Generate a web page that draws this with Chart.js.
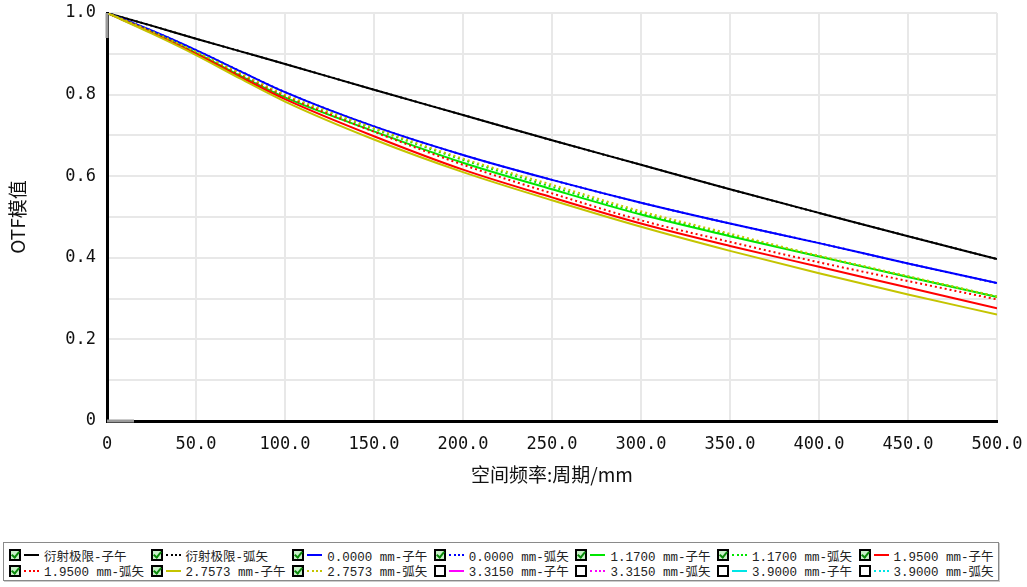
<!DOCTYPE html>
<html lang="zh">
<head>
<meta charset="UTF-8">
<title>OTF模值</title>
<script src="https://cdn.jsdelivr.net/npm/chart.js"></script>
<style>
    body { margin: 0; background: #fff; }
    #wrap { position: relative; width: 1027px; height: 587px; }
    #legend {
        position: absolute; left: 3px; top: 542px; width: 994px; height: 37px;
        border: 1px solid #8a8a8a; box-shadow: 1px 1px 0 #ccc;
        font-family: "Liberation Mono", "Noto Sans CJK SC", monospace; font-size: 12.5px; color: #222;
    }
    .item { position: absolute; height: 14px; display: flex; align-items: center; white-space: nowrap; }
    .box { width: 8px; height: 8px; border: 2px solid #000; margin-right: 3px; position: relative; background: #fff; }
    .box.on { background: #c8f0c8; }
    .box.on::after {
        content: ""; position: absolute; left: 2px; top: -1px; width: 3px; height: 6px;
        border-right: 2px solid #0a8a0a; border-bottom: 2px solid #0a8a0a; transform: rotate(40deg);
    }
    .sample { width: 15px; height: 0; margin-right: 5px; }
</style>
</head>
<body>
<div id="wrap">
    <canvas id="otfChart" width="1027" height="490"></canvas>
    <div id="legend"></div>
</div>
<script>
// 空间频率 (周期/mm)
const freq = [0, 25, 50, 75, 100, 150, 200, 250, 300, 350, 400, 450, 500];

// OTF模值
const diffT  = [1, 0.969, 0.937, 0.906, 0.875, 0.812, 0.750, 0.688, 0.628, 0.568, 0.510, 0.453, 0.397];
const diffS  = [1, 0.969, 0.937, 0.906, 0.875, 0.812, 0.750, 0.688, 0.628, 0.568, 0.510, 0.453, 0.397];
const f0T    = [1, 0.957, 0.909, 0.857, 0.806, 0.722, 0.652, 0.591, 0.535, 0.484, 0.436, 0.386, 0.338];
const f0S    = [1, 0.957, 0.909, 0.857, 0.806, 0.722, 0.652, 0.591, 0.535, 0.484, 0.436, 0.386, 0.338];
const f117T  = [1, 0.953, 0.902, 0.846, 0.793, 0.710, 0.633, 0.568, 0.506, 0.453, 0.403, 0.353, 0.304];
const f117S  = [1, 0.954, 0.904, 0.850, 0.798, 0.716, 0.640, 0.574, 0.510, 0.456, 0.404, 0.354, 0.305];
const f195T  = [1, 0.952, 0.900, 0.843, 0.789, 0.698, 0.616, 0.548, 0.484, 0.429, 0.378, 0.327, 0.276];
const f195S  = [1, 0.954, 0.903, 0.849, 0.797, 0.709, 0.628, 0.558, 0.492, 0.439, 0.389, 0.343, 0.298];
const f276T  = [1, 0.950, 0.897, 0.839, 0.783, 0.690, 0.610, 0.541, 0.476, 0.417, 0.362, 0.310, 0.261];
const f276S  = [1, 0.955, 0.905, 0.852, 0.800, 0.718, 0.643, 0.579, 0.514, 0.459, 0.405, 0.355, 0.305];

// legend entries (the last four are unchecked and not plotted)
const names   = ['衍射极限-子午', '衍射极限-弧矢', '0.0000 mm-子午', '0.0000 mm-弧矢', '1.1700 mm-子午', '1.1700 mm-弧矢',
                 '1.9500 mm-子午', '1.9500 mm-弧矢', '2.7573 mm-子午', '2.7573 mm-弧矢', '3.3150 mm-子午', '3.3150 mm-弧矢',
                 '3.9000 mm-子午', '3.9000 mm-弧矢'];
const colors  = ['#000000', '#000000', '#0000ff', '#0000ff', '#00e600', '#00e600', '#ff0000', '#ff0000',
                 '#c4c400', '#c4c400', '#ff00ff', '#ff00ff', '#00e6e6', '#00e6e6'];
const dotted  = [false, true, false, true, false, true, false, true, false, true, false, true, false, true];
const checked = [true, true, true, true, true, true, true, true, true, true, false, false, false, false];
const series  = [diffT, diffS, f0T, f0S, f117T, f117S, f195T, f195S, f276T, f276S];

const datasets = series.map((vals, i) => ({
    label: names[i],
    data: freq.map((f, j) => ({ x: f, y: vals[j] })),
    borderColor: colors[i],
    borderWidth: 2,
    borderDash: dotted[i] ? [2, 3] : [],
    pointRadius: 0,
    cubicInterpolationMode: 'monotone',
    fill: false,
    order: series.length - i
}));

// grey start of the axis lines, like the reference
const axisMarks = {
    id: 'axisMarks',
    afterDraw(chart) {
        const { ctx, chartArea } = chart;
        ctx.save();
        ctx.strokeStyle = '#9a9a9a';
        ctx.lineWidth = 3;
        ctx.beginPath();
        ctx.moveTo(chartArea.left, chartArea.top);
        ctx.lineTo(chartArea.left, chartArea.top + 25);
        ctx.moveTo(chartArea.left, chartArea.bottom);
        ctx.lineTo(chartArea.left + 27, chartArea.bottom);
        ctx.stroke();
        ctx.restore();
    }
};

new Chart(document.getElementById('otfChart'), {
    type: 'line',
    data: { datasets: datasets },
    plugins: [axisMarks],
    options: {
        responsive: false,
        animation: false,
        layout: { padding: { top: 13, right: 30, left: 0, bottom: 0 } },
        plugins: { legend: { display: false }, tooltip: { enabled: false } },
        scales: {
            x: {
                type: 'linear', min: 0, max: 500,
                afterFit: s => { s.height = 69; s.paddingLeft = 0; s.paddingRight = 0; },
                border: { color: '#000', width: 3 },
                grid: { color: '#e8e8e8', lineWidth: 2, drawTicks: false },
                ticks: {
                    stepSize: 50, padding: 13, color: '#111', maxRotation: 0,
                    font: { family: 'DejaVu Sans Mono', size: 17 },
                    callback: v => v === 0 ? '0' : v.toFixed(1)
                },
                title: {
                    display: true, text: '空间频率:周期/mm', color: '#111',
                    font: { family: 'Noto Sans CJK SC', size: 19 }, padding: { top: 0, bottom: 4 }
                }
            },
            y: {
                min: 0, max: 1,
                afterFit: s => { s.width = 107; s.paddingTop = 0; s.paddingBottom = 0; },
                border: { color: '#000', width: 3 },
                grid: { color: '#e8e8e8', lineWidth: 2, drawTicks: false },
                ticks: {
                    stepSize: 0.1, padding: 11, color: '#111', autoSkip: false,
                    font: { family: 'DejaVu Sans Mono', size: 17 },
                    callback: v => {
                        const k = Math.round(v * 10);
                        if (k === 0) return '0';
                        return k % 2 === 0 ? (k / 10).toFixed(1) : '';
                    }
                },
                title: {
                    display: true, text: 'OTF模值', color: '#111',
                    font: { family: 'Noto Sans CJK SC', size: 19 }, padding: { top: 6, bottom: 0 }
                }
            }
        }
    }
});

// legend built from the same arrays
const legend = document.getElementById('legend');
names.forEach((name, i) => {
    const row = Math.floor(i / 7), col = i % 7;
    const item = document.createElement('div');
    item.className = 'item';
    item.style.left = (5 + col * 141.6) + 'px';
    item.style.top = (5 + row * 15.5) + 'px';
    const box = document.createElement('span');
    box.className = 'box' + (checked[i] ? ' on' : '');
    const line = document.createElement('span');
    line.className = 'sample';
    line.style.borderTop = '2px ' + (dotted[i] ? 'dotted ' : 'solid ') + colors[i];
    const txt = document.createElement('span');
    txt.textContent = name;
    item.append(box, line, txt);
    legend.appendChild(item);
});
</script>
</body>
</html>
